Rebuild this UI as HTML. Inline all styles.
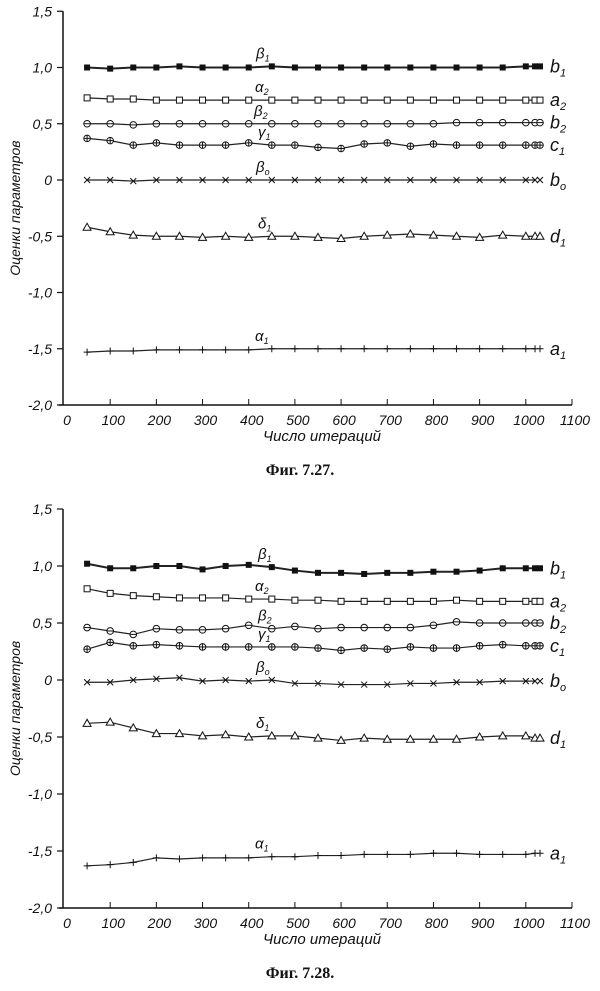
<!DOCTYPE html>
<html><head><meta charset="utf-8">
<style>
body{margin:0;background:#fff;width:600px;height:991px;overflow:hidden}
svg{display:block}
text{font-family:"Liberation Sans",sans-serif;font-style:italic;fill:#111}
</style></head>
<body>
<svg id="s" width="600" height="991" xmlns="http://www.w3.org/2000/svg"></svg>
<script>
const S=document.getElementById('s');let h='';
const X=n=>64+n*0.4618;
function chart(y0,k,top,data,glab,cap){
  const Y=v=>y0-v*k;
  h+=`<line x1="63" y1="${Y(1.5)}" x2="63" y2="${Y(-2)}" stroke="#111" stroke-width="1.5"/>`;
  h+=`<line x1="59" y1="${Y(-2)}" x2="${X(1100)}" y2="${Y(-2)}" stroke="#111" stroke-width="1.5"/>`;
  for(let v=1.5;v>=-2.01;v-=0.5){const y=Y(v);h+=`<line x1="57" y1="${y}" x2="63" y2="${y}" stroke="#111" stroke-width="1.2"/>`;
    const t=(v>0.01?'':v<-0.01?'-':'')+(Math.abs(v)<0.01?'0':Math.abs(v).toFixed(1).replace('.',','));
    h+=`<text x="52" y="${y+5}" font-size="14" text-anchor="end">${t}</text>`;}
  for(let n=0;n<=1100;n+=100){const x=X(n);if(n>0)h+=`<line x1="${x}" y1="${Y(-2)-6}" x2="${x}" y2="${Y(-2)}" stroke="#111"/>`;
    h+=`<text x="${x+3}" y="${Y(-2)+20}" font-size="14" text-anchor="middle">${n}</text>`;}
  h+=`<text x="322" y="${Y(-2)+36}" font-size="15" text-anchor="middle">Число  итераций</text>`;
  h+=`<text transform="translate(20,${Y(-0.25)}) rotate(-90)" font-size="14" text-anchor="middle">Оценки  параметров</text>`;
  h+=`<text x="300" y="${Y(-2)+70}" font-size="16" font-weight="bold" text-anchor="middle" style="font-style:normal;font-family:'Liberation Serif',serif">Фиг.  ${cap}</text>`;
  data.forEach((d,i)=>{const [vals,m,rl,gl]=d;const pts=vals.map((v,j)=>[X(50+j*50>1000?1020:50+j*50),Y(v)]);
    h+=`<polyline points="${pts.map(p=>p.join(',')).join(' ')}" fill="none" stroke="#222" stroke-width="${m=='fs'?2:1.2}"/>`;
    pts.concat([[540,Y(vals[vals.length-1])]]).forEach(([x,y])=>{
      if(m=='fs')h+=`<rect x="${x-3}" y="${y-3}" width="6" height="6" fill="#111"/>`;
      if(m=='os')h+=`<rect x="${x-3}" y="${y-3}" width="6" height="6" fill="#fff" stroke="#111"/>`;
      if(m=='c'||m=='cp')h+=`<circle cx="${x}" cy="${y}" r="3.3" fill="#fff" stroke="#111"/>`+`<line x1="${x-3}" y1="${y}" x2="${x+3}" y2="${y}" stroke="#111"/>`;
      if(m=='cp')h+=`<line x1="${x}" y1="${y-3}" x2="${x}" y2="${y+3}" stroke="#111"/>`;
      if(m=='x')h+=`<path d="M${x-3} ${y-3}L${x+3} ${y+3}M${x-3} ${y+3}L${x+3} ${y-3}" stroke="#111"/>`;
      if(m=='t')h+=`<path d="M${x-4} ${y+3}L${x+4} ${y+3}L${x} ${y-4}Z" fill="#fff" stroke="#111"/>`;
      if(m=='p')h+=`<path d="M${x-3.5} ${y}L${x+3.5} ${y}M${x} ${y-3.5}L${x} ${y+3.5}" stroke="#111"/>`;
    });
    const yl=Y(vals[vals.length-1]);
    h+=`<text x="550" y="${yl+6}" font-size="18" font-family="Liberation Serif">${rl[0]}<tspan font-size="11" dy="4">${rl[1]}</tspan></text>`;
    h+=`<text x="${gl[1]}" y="${Y(vals[8])-8}" font-size="15" font-family="Liberation Serif">${gl[0]}<tspan font-size="9" dy="3">${gl[2]}</tspan></text>`;
  });
}
chart(180,112.5,0,[
 [[1,0.99,1,1,1.01,1,1,1,1.01,1,1,1,1,1,1,1,1,1,1,1.01,1.01],'fs',['b','1'],['β',256,'1']],
 [[0.73,0.72,0.72,0.71,0.71,0.71,0.71,0.71,0.71,0.71,0.71,0.71,0.71,0.71,0.71,0.71,0.71,0.71,0.71,0.71,0.71],'os',['a','2'],['α',255,'2']],
 [[0.5,0.5,0.49,0.5,0.5,0.5,0.5,0.5,0.5,0.5,0.5,0.5,0.5,0.5,0.5,0.5,0.51,0.51,0.51,0.51,0.51],'c',['b','2'],['β',254,'2']],
 [[0.37,0.35,0.31,0.33,0.31,0.31,0.31,0.33,0.31,0.31,0.29,0.28,0.32,0.33,0.3,0.32,0.31,0.31,0.31,0.31,0.31],'cp',['c','1'],['γ',258,'1']],
 [[0,0,-0.01,0,0,0,0,0,0,0,0,0,0,0,0,0,0,0,0,0,0],'x',['b','o'],['β',256,'o']],
 [[-0.42,-0.46,-0.49,-0.5,-0.5,-0.51,-0.5,-0.51,-0.5,-0.5,-0.51,-0.52,-0.5,-0.49,-0.48,-0.49,-0.5,-0.51,-0.49,-0.5,-0.5],'t',['d','1'],['δ',258,'1']],
 [[-1.53,-1.52,-1.52,-1.51,-1.51,-1.51,-1.51,-1.51,-1.5,-1.5,-1.5,-1.5,-1.5,-1.5,-1.5,-1.5,-1.5,-1.5,-1.5,-1.5,-1.5],'p',['a','1'],['α',255,'1']]
],'','7.27.');
chart(680,114,0,[
 [[1.02,0.98,0.98,1,1,0.97,1,1.01,0.99,0.96,0.94,0.94,0.93,0.94,0.94,0.95,0.95,0.96,0.98,0.98,0.98],'fs',['b','1'],['β',258,'1']],
 [[0.8,0.76,0.74,0.73,0.72,0.72,0.72,0.71,0.71,0.7,0.7,0.69,0.69,0.69,0.69,0.69,0.7,0.69,0.69,0.69,0.69],'os',['a','2'],['α',255,'2']],
 [[0.46,0.43,0.4,0.45,0.44,0.44,0.45,0.48,0.45,0.47,0.45,0.46,0.46,0.46,0.46,0.48,0.51,0.5,0.5,0.5,0.5],'c',['b','2'],['β',258,'2']],
 [[0.27,0.33,0.3,0.31,0.3,0.29,0.29,0.29,0.29,0.29,0.28,0.26,0.28,0.27,0.29,0.28,0.28,0.3,0.31,0.3,0.3],'cp',['c','1'],['γ',258,'1']],
 [[-0.02,-0.02,0,0.01,0.02,-0.01,0,-0.01,0,-0.03,-0.03,-0.04,-0.04,-0.04,-0.03,-0.03,-0.02,-0.02,-0.01,-0.01,-0.01],'x',['b','o'],['β',256,'o']],
 [[-0.38,-0.37,-0.42,-0.47,-0.47,-0.49,-0.48,-0.5,-0.49,-0.49,-0.51,-0.53,-0.51,-0.52,-0.52,-0.52,-0.52,-0.5,-0.49,-0.49,-0.51],'t',['d','1'],['δ',256,'1']],
 [[-1.63,-1.62,-1.6,-1.56,-1.57,-1.56,-1.56,-1.56,-1.55,-1.55,-1.54,-1.54,-1.53,-1.53,-1.53,-1.52,-1.52,-1.53,-1.53,-1.53,-1.52],'p',['a','1'],['α',255,'1']]
],'','7.28.');
S.innerHTML=h;
</script>
</body></html>
